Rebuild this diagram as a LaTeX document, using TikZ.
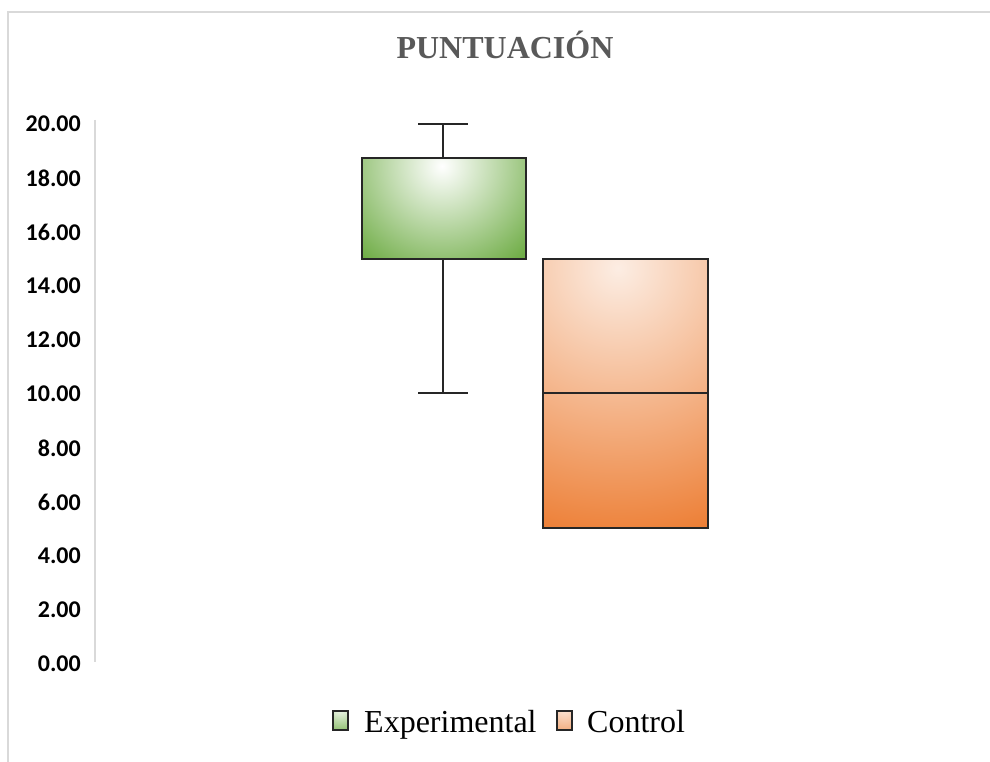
\documentclass[tikz,border=0pt]{standalone}
\usepackage{fontspec}
\setmainfont{Liberation Serif}
\newfontfamily\axisfont{Carlito}
\definecolor{grn}{HTML}{70AD47}
\definecolor{orn}{HTML}{EC7A2E}
\definecolor{ornlight}{HTML}{FCEDE3}
\definecolor{framegray}{HTML}{D9D9D9}
\definecolor{titlegray}{HTML}{595959}
\definecolor{inkdark}{HTML}{262626}
\pgfdeclareradialshading{greenrad}{\pgfpoint{0bp}{0bp}}{color(0bp)=(white); color(20bp)=(grn); color(50bp)=(grn)}
\pgfdeclareradialshading{orangerad}{\pgfpoint{0bp}{0bp}}{color(0bp)=(ornlight); color(25bp)=(orn); color(50bp)=(orn)}
\tikzset{
  boxline/.style={draw=inkdark, line width=1.8pt},
  whisk/.style={draw=inkdark, line width=1.8pt},
  ticklabel/.style={anchor=east, inner sep=0pt, font=\axisfont\bfseries\fontsize{24}{28}\selectfont, text=black},
  legtext/.style={anchor=base west, inner sep=0pt, font=\fontsize{32}{36}\selectfont, text=black},
}
\begin{document}
\begin{tikzpicture}[x=1pt,y=-1pt]
\useasboundingbox (0,0) rectangle (990,762);
\fill[white] (0,0) rectangle (990,762);
% frame
\draw[framegray, line width=1.5pt] (8,762) -- (8,12) -- (990,12);
% title
\node[font=\bfseries\fontsize{32}{38}\selectfont, text=titlegray] (title) at (505,45) {PUNTUACIÓN};
% axis
\draw[framegray, line width=1.5pt] (95,120) -- (95,662);
\foreach \v in {0,2,...,20} {
  \node[ticklabel] (t\v) at (81,{664-27*\v}) {\v.00};
}
% Experimental whiskers
\coordinate (ewtop) at (443,124);
\coordinate (ewq3) at (443,158);
\coordinate (ewq1) at (443,259);
\coordinate (ewbot) at (443,393);
\draw[whisk] (ewtop) -- (ewq3);
\draw[whisk] (ewq1) -- (ewbot);
\draw[whisk] (418,124) -- (468,124);
\draw[whisk] (418,393) -- (468,393);
% Experimental box
\begin{scope}
  \clip (362,158) rectangle (526,259);
  \shade[shading=greenrad] (442,166) circle (150);
\end{scope}
\draw[boxline] (362,158) rectangle (526,259);
% Control box
\begin{scope}
  \clip (543,259) rectangle (708,528);
  \shade[shading=orangerad] (618,268) circle (285);
\end{scope}
\draw[boxline] (543,259) rectangle (708,528);
\draw[boxline] (543,393) -- (708,393);
% legend
\begin{scope}
  \clip (333,711) rectangle (348,730);
  \shade[shading=greenrad] (340,706) circle (40);
\end{scope}
\draw[draw=inkdark, line width=1.5pt] (333,711) rectangle (348,730);
\node[legtext] (lexp) at (364,732) {Experimental};
\begin{scope}
  \clip (557,711) rectangle (572,730);
  \shade[shading=orangerad] (564,706) circle (45);
\end{scope}
\draw[draw=inkdark, line width=1.5pt] (557,711) rectangle (572,730);
\node[legtext] (lcon) at (587,732) {Control};
\end{tikzpicture}
\end{document}
